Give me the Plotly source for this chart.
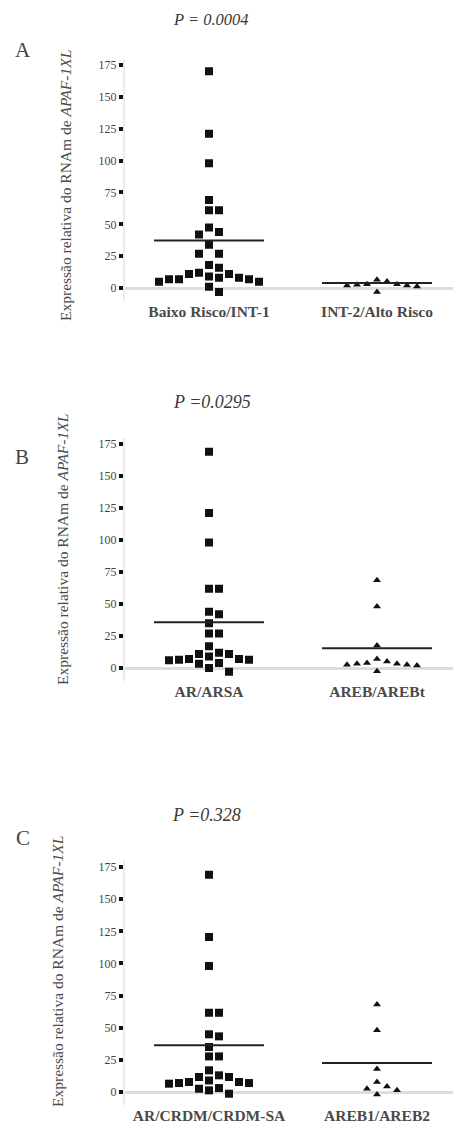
import plotly.graph_objects as go

# ---------------- data ----------------
panel_letters = ["A", "B", "C"]
p_titles = ["P = 0.0004", "P =0.0295", "P =0.328"]
y_title = "Expressão relativa do RNAm de <i>APAF-1XL</i>"
y_ticks = [0, 25, 50, 75, 100, 125, 150, 175]

cats_A = ["Baixo Risco/INT-1", "INT-2/Alto Risco"]
cats_B = ["AR/ARSA", "AREB/AREBt"]
cats_C = ["AR/CRDM/CRDM-SA", "AREB1/AREB2"]

A_g1 = [170, 121, 98, 69, 61, 61, 47.5, 44, 42, 34, 27, 27, 18, 16, 12, 11, 11,
        9, 8, 8, 7, 7, 7, 5, 5, 1, -3]
A_g2 = [6.5, 5.2, 3, 3, 2.6, 2, 2, 1.3, -3]
A_means = [37.3, 3.9]

B_g1 = [169, 121, 98, 62, 62, 44, 42, 35, 27, 27, 17, 12, 11, 11,
        9, 7, 7, 6.5, 6.5, 6, 4, 3.4, 0, -3]
B_g2 = [68.5, 48, 17.5, 7, 5, 4, 3.4, 3.4, 2.6, 2.6, 2, -2.6]
B_means = [35.7, 15.4]

C_g1 = [169, 120.6, 98, 61.7, 61.7, 44.9, 43.3, 35, 27.7, 27.7, 16.9, 13, 11.7, 11.7,
        9, 7.8, 7.8, 7, 7, 6.5, 3.1, 2.6, 1.3, -1.3]
C_g2 = [68, 48, 18, 7.8, 4.4, 2.6, 1.3, -2]
C_means = [36.3, 22.6]

panels = [
    (cats_A, A_g1, A_g2, A_means),
    (cats_B, B_g1, B_g2, B_means),
    (cats_C, C_g1, C_g2, C_means),
]

# ---------------- layout geometry ----------------
PAGE_OFF = 8  # default page margin of the html body
W, H = 461 - PAGE_OFF, 1126 - PAGE_OFF


def fx(px):
    return (px - PAGE_OFF) / W


def fy(py):
    return 1 - (py - PAGE_OFF) / H


x_left_px, x_right_px = 125, 461
x_dom = [fx(x_left_px), 1.0]
x_range = [0.5, 2.5]
y_range = [-10, 180]
# (top px, bottom px) of each plot area, in window pixels
areas = [(58.6, 300.8), (437.6, 680.8), (860.6, 1104.9)]
title_pos = [(211, 19), (212, 402), (206, 815)]
title_size = [16.5, 18, 18]
letter_pos = [(23, 50), (22, 457), (23, 838)]
ytitle_pos = [(65, 186), (62, 550), (57, 972)]

SERIF = "Liberation Serif, Times New Roman, serif"
PT = "#111111"

plot_w_px = (x_right_px - x_left_px)
unit_x_per_px = (x_range[1] - x_range[0]) / plot_w_px
step_px = 10.0
marker_px = 9.0


def swarm(values, center, px_per_unit):
    """Simple beeswarm: place each point at the nearest free column slot."""
    order = sorted(range(len(values)), key=lambda i: -values[i])
    placed = []  # (slot, y_px)
    xs = [0.0] * len(values)
    prefs = [0]
    for k in range(1, 20):
        prefs += [k, -k]
    for i in order:
        ypx = values[i] * px_per_unit
        for s in prefs:
            if all(not (ps == s and abs(py - ypx) < marker_px) for ps, py in placed):
                placed.append((s, ypx))
                xs[i] = center + s * step_px * unit_x_per_px
                break
    return xs


fig = go.Figure()
annotations = []
layout_axes = {}

for idx, (cats, g1, g2, means) in enumerate(panels):
    n = idx + 1
    xa = "x" if n == 1 else f"x{n}"
    ya = "y" if n == 1 else f"y{n}"
    top, bot = areas[idx]
    px_per_unit = (bot - top) / (y_range[1] - y_range[0])

    fig.add_trace(go.Scatter(
        x=swarm(g1, 1, px_per_unit), y=g1, mode="markers", xaxis=xa, yaxis=ya,
        marker=dict(symbol="square", size=8, color=PT), showlegend=False,
        hoverinfo="y"))
    fig.add_trace(go.Scatter(
        x=swarm(g2, 2, px_per_unit), y=g2, mode="markers", xaxis=xa, yaxis=ya,
        marker=dict(symbol="triangle-up", size=7, color=PT), showlegend=False,
        hoverinfo="y"))
    half = 55 * unit_x_per_px
    for c, m in zip([1, 2], means):
        fig.add_trace(go.Scatter(
            x=[c - half, c + half], y=[m, m], mode="lines", xaxis=xa, yaxis=ya,
            line=dict(color="#222222", width=2), showlegend=False, hoverinfo="skip"))

    ax_key = "xaxis" if n == 1 else f"xaxis{n}"
    ay_key = "yaxis" if n == 1 else f"yaxis{n}"
    layout_axes[ax_key] = dict(
        domain=x_dom, range=x_range, anchor=ya, tickmode="array",
        tickvals=[1, 2], ticktext=[f"<b>{c}</b>" for c in cats],
        tickfont=dict(family=SERIF, size=15.5, color="#4a4a4a"),
        showline=False, showgrid=False, zeroline=False, ticks="", ticklen=0)
    layout_axes[ay_key] = dict(
        domain=[fy(bot), fy(top)], range=y_range, anchor=xa,
        tickmode="array", tickvals=y_ticks,
        tickfont=dict(family=SERIF, size=12, color="#444444"),
        ticks="outside", ticklen=4, tickwidth=4, tickcolor="#111111",
        showline=True, linecolor="#ececec", linewidth=2,
        showgrid=False, zeroline=True, zerolinecolor="#dddddd", zerolinewidth=3)

    tx, ty = title_pos[idx]
    annotations.append(dict(
        x=fx(tx), y=fy(ty), xref="paper", yref="paper", showarrow=False,
        xanchor="center", yanchor="middle",
        text=f"<i>{p_titles[idx]}</i>",
        font=dict(family=SERIF, size=title_size[idx], color="#3a3a3a")))
    lx, ly = letter_pos[idx]
    annotations.append(dict(
        x=fx(lx), y=fy(ly), xref="paper", yref="paper", showarrow=False,
        xanchor="center", yanchor="middle",
        text=panel_letters[idx], font=dict(family=SERIF, size=21, color="#444444")))
    yx, yy = ytitle_pos[idx]
    annotations.append(dict(
        x=fx(yx), y=fy(yy), xref="paper", yref="paper", showarrow=False,
        xanchor="center", yanchor="middle",
        text=y_title, textangle=-90,
        font=dict(family=SERIF, size=15.5, color="#4a4a4a")))

fig.update_layout(
    width=W, height=H, margin=dict(l=0, r=0, t=0, b=0),
    paper_bgcolor="white", plot_bgcolor="white",
    annotations=annotations, **layout_axes)

fig.write_html("out.html")
